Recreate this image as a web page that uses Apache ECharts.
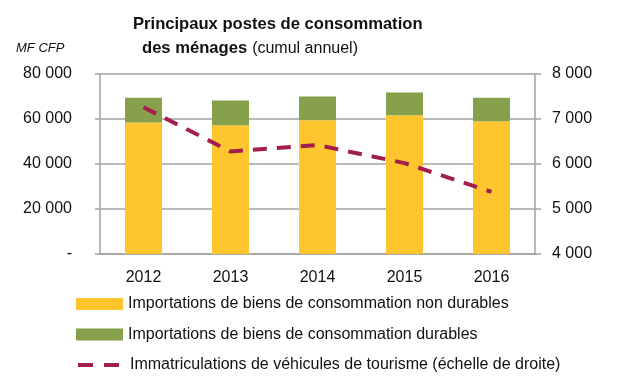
<!DOCTYPE html>
<html><head><meta charset="utf-8">
<script src="https://cdn.jsdelivr.net/npm/echarts@6/dist/echarts.min.js"></script>
<style>html,body{margin:0;padding:0;background:#fff}#c{width:640px;height:382px}</style>
</head><body><div id="c"></div>
<script>
var years = ['2012', '2013', '2014', '2015', '2016'];
var nonDurables = [58400, 57200, 59400, 61700, 59000];
var durables = [11000, 11000, 10600, 10100, 10400];
var immatriculations = [7260, 6280, 6420, 6020, 5380];
var leftTicks = { min: 0, max: 80000, interval: 20000 };
var rightTicks = { min: 4000, max: 8000, interval: 1000 };
var seriesNames = [
  'Importations de biens de consommation non durables',
  'Importations de biens de consommation durables',
  'Immatriculations de véhicules de tourisme (échelle de droite)'
];

var BFONT = 'Liberation Sans';
function fmt(v) {
  if (v === 0) return '-';
  return String(v).replace(/\B(?=(\d{3})+(?!\d))/g, ' ');
}
var gray = '#a3a3a3';
var lineColor = '#A31E4D';
var legendTops = [296, 326.5, 357];
var legendItems = [
  { name: seriesNames[0], icon: 'rect' },
  { name: seriesNames[1], icon: 'rect' },
  { name: seriesNames[2], icon: 'inherit',
    itemStyle: { color: 'rgba(0,0,0,0)', borderWidth: 0, opacity: 0 },
    lineStyle: { color: lineColor, width: 4, type: [15, 11] } }
];
var legends = legendItems.map(function (it, i) {
  return {
    orient: 'vertical', left: 76, top: legendTops[i], padding: 0,
    itemWidth: 47, itemHeight: 12,
    textStyle: { fontFamily: BFONT, fontSize: 16, color: '#111', lineHeight: 16 },
    data: [it]
  };
});
var chart = echarts.init(document.getElementById('c'));
chart.setOption({
  animation: false,
  textStyle: { fontFamily: BFONT },
  title: [
    { text: 'Principaux postes de consommation', left: 133, top: 15, padding: 0,
      textStyle: { fontFamily: BFONT, fontWeight: 'bold', fontSize: 16.6, color: '#111', lineHeight: 19 } },
    { text: '{b|des ménages} {n|(cumul annuel)}', left: 142, top: 39, padding: 0,
      textStyle: { rich: {
        b: { fontFamily: BFONT, fontWeight: 'bold', fontSize: 16.6, color: '#111', lineHeight: 19 },
        n: { fontFamily: BFONT, fontWeight: 'normal', fontSize: 16, color: '#111', lineHeight: 19 } } } },
    { text: 'MF CFP', left: 16, top: 42, padding: 0,
      textStyle: { fontFamily: BFONT, fontStyle: 'italic', fontWeight: 'normal', fontSize: 13, color: '#111' } }
  ],
  grid: { left: 100, right: 105, top: 74, bottom: 128, containLabel: false },
  legend: legends,
  xAxis: {
    type: 'category', data: years,
    axisLine: { lineStyle: { color: gray, width: 1.5 } },
    axisTick: { show: false },
    axisLabel: { color: '#111', fontSize: 16, margin: 16, fontFamily: BFONT }
  },
  yAxis: [
    { type: 'value', min: leftTicks.min, max: leftTicks.max, interval: leftTicks.interval,
      axisLine: { show: true, lineStyle: { color: gray, width: 1.5 } },
      axisTick: { show: true, length: 5, lineStyle: { color: gray, width: 1.5 } },
      splitLine: { lineStyle: { color: gray, width: 1.5 } },
      axisLabel: { color: '#111', fontSize: 16, margin: 28, formatter: fmt, fontFamily: BFONT } },
    { type: 'value', min: rightTicks.min, max: rightTicks.max, interval: rightTicks.interval, position: 'right',
      axisLine: { show: true, lineStyle: { color: gray, width: 1.5 } },
      axisTick: { show: true, length: 6, lineStyle: { color: gray, width: 1.5 } },
      splitLine: { show: false },
      axisLabel: { color: '#111', fontSize: 16, margin: 17, formatter: fmt, fontFamily: BFONT } }
  ],
  series: [
    { name: seriesNames[0], type: 'bar', stack: 'a', barWidth: 37, data: nonDurables,
      itemStyle: { color: '#FEC52E' }, z: 2 },
    { name: seriesNames[1], type: 'bar', stack: 'a', barWidth: 37, data: durables,
      itemStyle: { color: '#86A04B' }, z: 2 },
    { name: seriesNames[2], type: 'line', yAxisIndex: 1, data: immatriculations,
      symbol: 'none', z: 5,
      itemStyle: { color: lineColor },
      lineStyle: { color: lineColor, width: 4, type: [14, 10] } }
  ]
});
</script>
</body></html>
